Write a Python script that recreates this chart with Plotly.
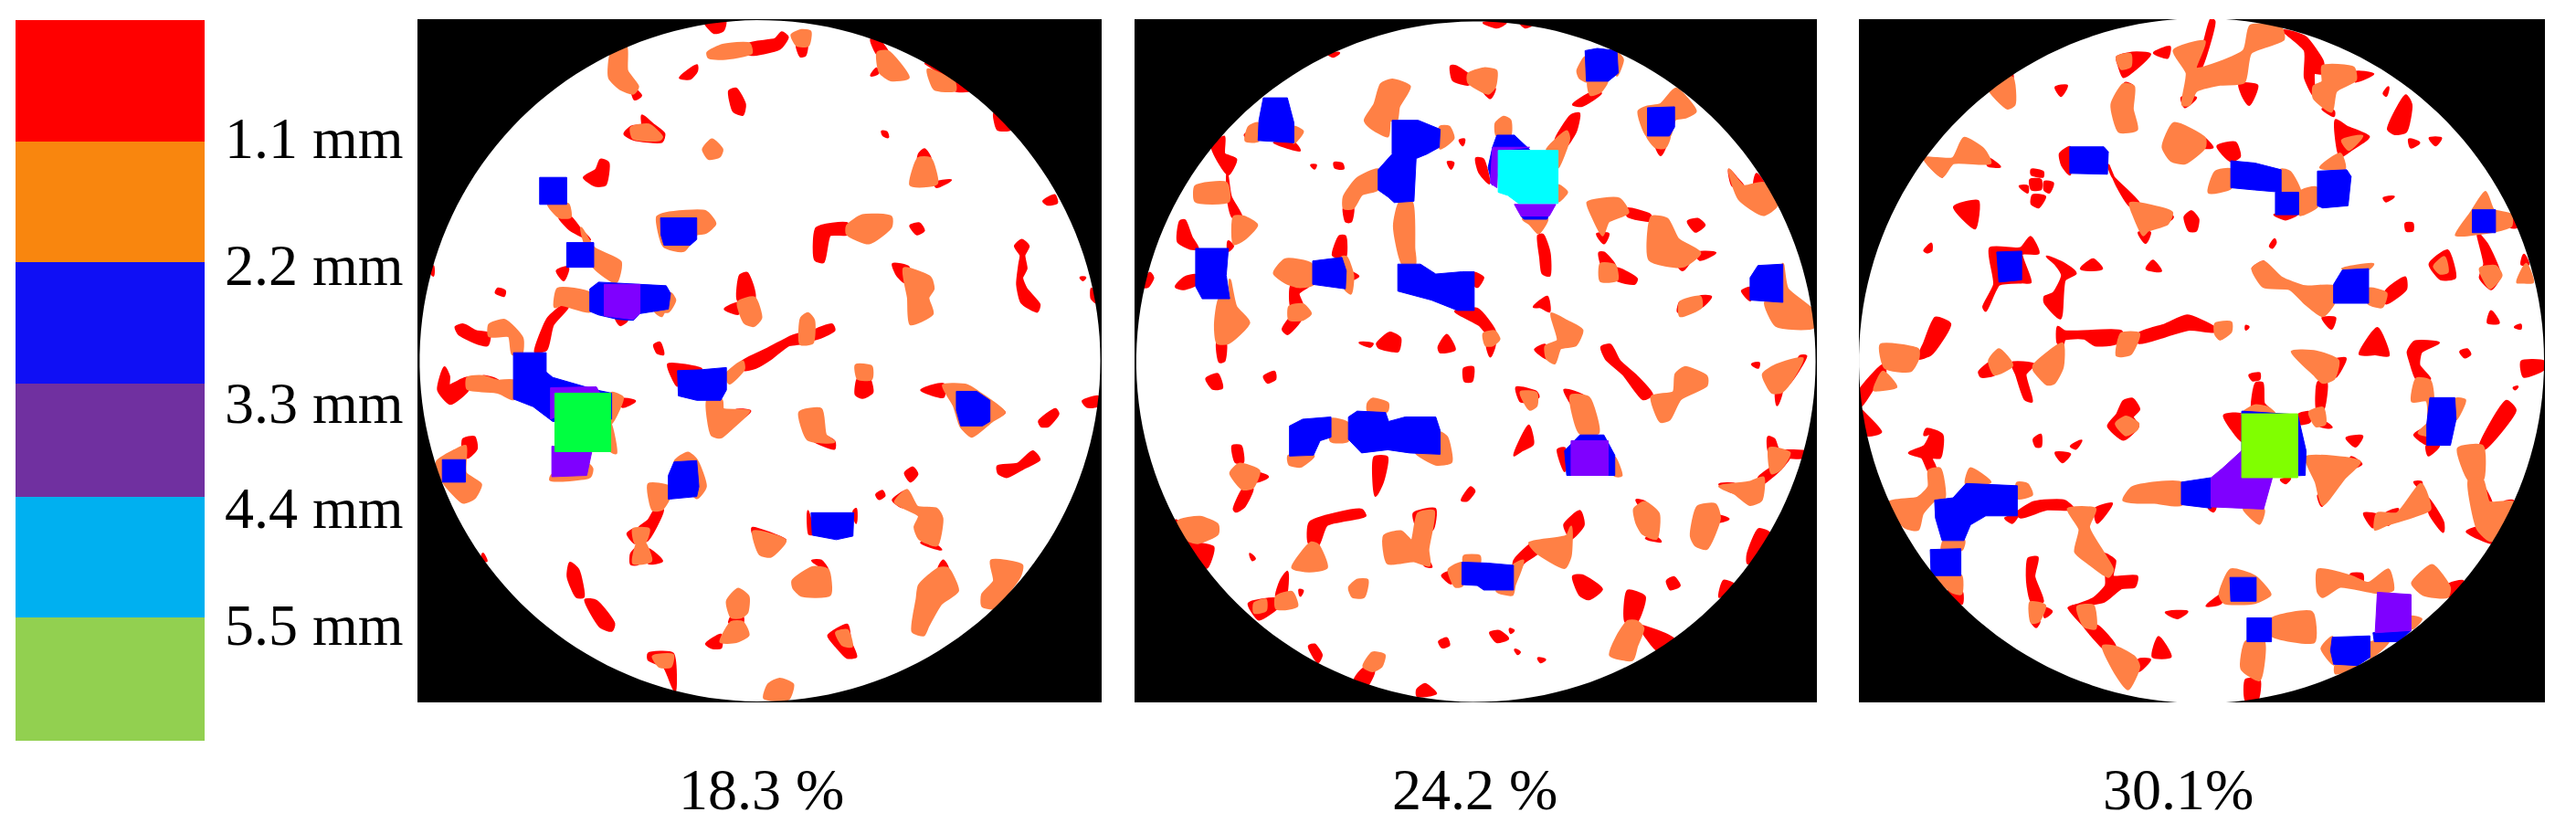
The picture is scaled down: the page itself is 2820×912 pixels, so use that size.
import numpy as np
import plotly.graph_objects as go

# colour scale of the pore size map
LEGEND_SPANS = [133, 133, 133, 124, 133, 135]
LEGEND_COLORS = ['#ff0000', '#f9860e', '#0f0ff5', '#7030a0', '#00b0f0', '#92d050']
LEGEND_LABELS = ['1.1 mm', '2.2 mm', '3.3 mm', '4.4 mm', '5.5 mm']
LEGEND_LABEL_Y = [151, 291, 441, 556, 684]
PANEL_TITLES = ['18.3 %', '24.2 %', '30.1%']

RED = '#ff0000'
ORANGE = '#ff8045'
BLUE = '#0000ff'
PURPLE = '#7f00ff'

# pore outlines, one list per size class
P1_RED = [
    [(445,75),(478,60),(470,100),(445,110)], [(490,150),(512,170),(498,178)], [(760,55),(820,45),(835,30),(848,40),(830,65),(760,78)],
    [(870,58),(892,58),(888,80),(878,82)], [(660,8),(705,5),(700,25),(680,30)], [(1040,45),(1060,50),(1078,75),(1055,78)],
    [(1040,125),(1052,110),(1055,120)], [(1165,98),(1265,158),(1232,158),(1228,140)], [(1322,210),(1358,245),(1330,245)],
    [(602,130),(640,103),(640,115),(625,132)], [(715,160),(730,155),(750,190),(745,212),(725,205)],
    [(515,215),(540,235),(565,255),(560,272),(495,267),(475,255),(490,240),(515,235)], [(382,352),(410,335),(420,313),(437,320),(430,368),(408,370)],
    [(1065,250),(1075,252),(1078,262),(1068,258)], [(1150,300),(1162,290),(1175,310),(1148,312)], [(1185,365),(1222,358),(1190,373)],
    [(1435,405),(1460,392),(1465,408),(1445,412)], [(325,440),(350,440),(375,470),(395,490),(350,468)], [(340,552),(320,560),(335,580),(345,555)],
    [(330,640),(345,640),(310,680),(295,735),(270,740),(285,695),(300,665)], [(455,665),(480,670),(465,680)],
    [(915,465),(985,455),(985,478),(945,480),(930,540),(912,535)], [(1130,460),(1150,455),(1160,470),(1145,478)],
    [(1370,505),(1385,492),(1400,505),(1390,525),(1395,555),(1385,575),(1395,600),(1425,635),(1420,650),(1385,630),(1375,590),(1380,545),(1383,525)],
    [(1545,600),(1555,630),(1545,620)], [(1520,575),(1530,575),(1525,580)], [(1090,545),(1125,552),(1118,585),(1100,570)],
    [(740,570),(755,565),(770,600),(772,620),(735,625)], [(705,645),(735,632),(735,655)], [(88,685),(105,680),(135,695),(165,700),(160,725),(130,718),(95,700)],
    [(48,825),(62,775),(72,795),(72,815),(115,798),(115,825),(75,855)], [(150,795),(185,805),(185,825),(150,820)],
    [(465,845),(498,850),(470,862)], [(105,935),(130,930),(135,955),(115,975),(105,960)], [(575,768),(650,778),(598,790),(595,815)],
    [(745,762),(800,735),(860,705),(880,700),(880,720),(850,725),(810,755),(775,775),(748,780)], [(908,695),(950,680),(955,692),(908,712)],
    [(730,870),(762,872),(738,890)], [(543,725),(555,720),(563,745),(550,742)], [(1010,800),(1035,800),(1042,830),(1020,842),(1005,835)],
    [(925,925),(955,940),(955,955),(905,935)], [(1155,825),(1205,812),(1205,840)], [(1318,860),(1345,875),(1322,885)],
    [(1525,850),(1560,840),(1558,860),(1535,862)], [(1425,895),(1462,868),(1468,878),(1445,905),(1430,905)],
    [(1330,995),(1375,990),(1410,962),(1425,980),(1390,998),(1350,1018),(1332,1010)], [(1118,1010),(1135,998),(1145,1012),(1130,1028)],
    [(1052,1058),(1065,1050),(1070,1060),(1058,1067)], [(1090,1070),(1120,1050),(1112,1085)], [(1170,1160),(1200,1180),(1155,1165)],
    [(545,1092),(562,1092),(525,1160),(505,1135),(530,1115)], [(482,1145),(498,1135),(498,1165)], [(530,1180),(560,1205),(530,1210)],
    [(490,1190),(505,1175),(505,1212),(490,1212)], [(895,1095),(905,1145),(898,1145)], [(1000,1095),(1005,1090),(1005,1120)],
    [(768,1132),(843,1158),(770,1145)], [(905,1205),(925,1205),(940,1225)], [(1195,1222),(1205,1205),(1215,1222)],
    [(350,1210),(368,1225),(380,1285),(365,1285),(345,1240)], [(385,1292),(410,1295),(450,1345),(445,1360),(420,1352)],
    [(720,1330),(745,1330),(745,1342),(715,1342)], [(662,1390),(695,1370),(695,1398),(675,1398)],
    [(942,1372),(985,1348),(992,1385),(1005,1418),(985,1420),(960,1395)], [(530,1412),(585,1412),(590,1495),(575,1460),(565,1440),(530,1425)],
    [(150,1190),(158,1205),(148,1200)], [(30,560),(36,550),(36,570)], [(185,600),(200,605),(198,615),(180,608)],
]
P1_ORANGE = [
    [(445,75),(478,62),(480,115),(505,150),(495,165),(465,155),(440,130)], [(665,75),(700,58),(760,55),(765,75),(700,88),(668,85)],
    [(858,35),(880,25),(900,28),(895,58),(870,58)], [(1055,75),(1078,72),(1125,130),(1085,135),(1060,118)], [(1170,112),(1230,140),(1232,158),(1185,155)],
    [(490,242),(530,235),(560,262),(555,268),(495,265)], [(655,290),(675,268),(698,290),(692,305),(668,310)], [(1130,368),(1148,310),(1175,310),(1190,365),(1150,372)],
    [(300,412),(345,412),(350,440),(325,440)], [(375,465),(405,510),(465,540),(455,585),(405,552)], [(322,600),(395,610),(395,650),(330,635),(315,640)],
    [(580,610),(590,625),(575,650),(545,650),(560,660)], [(550,440),(570,432),(660,428),(682,455),(660,475),(640,478),(610,515),(565,505)],
    [(985,460),(1020,437),(1085,440),(1085,462),(1035,498),(985,478)], [(1115,555),(1175,575),(1182,600),(1170,620),(1180,655),(1130,678),(1125,620)],
    [(735,630),(772,620),(787,665),(770,682),(750,675)], [(165,680),(200,670),(240,710),(238,745),(218,745),(210,705),(165,705)],
    [(115,798),(150,795),(185,805),(220,805),(220,845),(185,830),(115,822)], [(445,832),(470,842),(450,890),(442,900)], [(443,900),(455,965),(443,960)],
    [(390,990),(400,1000),(395,1018),(305,1025),(308,1015)], [(45,985),(85,960),(110,950),(110,1010),(145,1035),(130,1065),(105,1075),(60,1030)],
    [(708,790),(745,762),(748,778),(715,810)], [(880,665),(895,655),(908,670),(905,720),(878,722)], [(665,848),(697,848),(700,868),(760,872),(720,910),(695,930),(675,925)],
    [(1005,770),(1040,773),(1040,800),(1010,800)], [(876,875),(925,868),(935,925),(955,940),(895,935)],
    [(1205,815),(1260,815),(1285,830),(1315,850),(1345,875),(1315,895),(1270,928),(1245,905),(1230,860)],
    [(1095,1075),(1122,1048),(1145,1085),(1190,1090),(1202,1110),(1190,1170),(1150,1155),(1140,1130),(1150,1105)], [(590,985),(620,965),(640,982),(660,1040),(640,1065)],
    [(530,1035),(575,1040),(575,1068),(560,1090),(540,1092)], [(495,1135),(530,1135),(520,1165),(500,1165)], [(505,1165),(520,1165),(535,1205),(495,1210)],
    [(770,1140),(843,1160),(810,1195),(785,1190)], [(860,1250),(905,1220),(940,1225),(945,1280),(880,1282),(862,1265)],
    [(1150,1260),(1195,1222),(1215,1222),(1238,1272),(1200,1300),(1170,1350),(1160,1370),(1135,1362),(1145,1290)],
    [(1295,1280),(1322,1250),(1315,1205),(1385,1215),(1380,1240),(1320,1310),(1295,1305)], [(710,1295),(735,1268),(758,1285),(755,1320),(742,1330),(720,1330)],
    [(695,1385),(720,1342),(745,1342),(758,1370),(730,1385)], [(960,1365),(985,1360),(995,1395),(975,1392)], [(540,1418),(585,1415),(580,1440),(555,1440)],
    [(795,1510),(805,1480),(830,1468),(860,1480),(850,1512)],
]
P1_BLUE = [
    [(280,352),(342,352),(342,412),(280,412)], [(342,497),(404,497),(404,552),(342,552)],
    [(395,600),(415,585),(510,590),(570,593),(580,610),(575,645),(510,655),(495,670),(460,668),(415,658),(395,650)],
    [(557,442),(640,442),(640,490),(625,503),(565,503),(558,480)],
    [(220,742),(295,742),(295,785),(310,797),(410,825),(445,832),(445,890),(310,895),(265,862),(220,845)],
    [(57,980),(110,980),(110,1030),(57,1030)], [(596,782),(650,780),(708,775),(708,825),(695,848),(640,848),(598,838)],
    [(1235,828),(1282,828),(1312,848),(1312,895),(1295,905),(1245,905),(1235,870)],
    [(588,985),(640,982),(645,1040),(640,1062),(575,1068),(575,1015)], [(902,1098),(1000,1098),(998,1150),(960,1158),(905,1148)],
]
P1_PURPLE = [
    [(428,590),(510,590),(510,655),(495,668),(428,660)], [(305,820),(410,818),(420,835),(305,890)], [(308,950),(400,960),(388,1015),(308,1018)],
]
P1_GREEN = [[(315,832),(443,832),(443,962),(315,962)]]

P2_RED = [
    [(800,8),(850,8),(830,18)], [(885,10),(910,12),(895,18)], [(445,78),(468,75),(455,83)], [(725,105),(735,105),(765,125),(765,145),(730,135)],
    [(800,160),(825,155),(815,175)], [(1005,190),(1045,165),(1068,165),(1025,192)], [(1195,282),(1215,282),(1205,302)], [(253,258),(265,250),(265,270)],
    [(320,275),(365,275),(378,292),(350,285)], [(480,420),(500,420),(495,450),(485,450)], [(510,362),(557,335),(540,355)], [(778,565),(798,575),(785,595),(778,590)],
    [(735,650),(785,645),(825,695),(810,700),(790,680)], [(808,725),(825,722),(815,750)], [(912,455),(940,452),(925,475)],
    [(965,268),(1000,215),(1018,210),(1010,250),(985,285),(975,270)], [(783,310),(798,312),(812,365),(790,340)], [(925,482),(935,480),(950,520),(950,570),(935,565),(930,530)],
    [(405,325),(415,325),(412,332)], [(458,320),(475,322),(478,332),(460,330)], [(745,270),(755,268),(752,280)], [(718,318),(730,320),(725,332)],
    [(178,282),(205,262),(205,300),(232,312),(215,345),(195,320)], [(212,345),(220,395),(245,440),(225,440),(215,405)], [(105,450),(115,448),(130,485),(145,510),(128,510),(100,495)],
    [(215,495),(225,505),(215,515)], [(95,595),(115,575),(140,570),(140,590),(110,600)], [(190,720),(208,720),(205,760),(195,762)], [(20,595),(35,565),(42,575),(30,595)],
    [(455,525),(470,483),(482,483),(482,530)], [(498,565),(512,572),(498,578)], [(360,592),(400,592),(375,610),(385,640),(360,640)], [(340,690),(358,665),(380,668),(350,700)],
    [(1128,422),(1180,435),(1185,448),(1130,438)], [(1060,478),(1085,478),(1075,498)], [(1285,520),(1330,520),(1295,535)], [(1240,540),(1270,540),(1255,558)],
    [(1268,450),(1290,445),(1305,458),(1285,472)], [(1065,520),(1075,520),(1100,548),(1072,548)], [(1105,555),(1150,578),(1145,588),(1105,580)],
    [(1362,335),(1380,355),(1395,372),(1370,370)], [(1425,345),(1440,365),(1420,368)], [(1392,605),(1410,598),(1410,625)], [(1295,618),(1320,618),(1298,640)],
    [(1245,650),(1250,630),(1265,655)], [(915,640),(945,618),(950,650),(930,640)], [(918,735),(940,725),(945,755)],
    [(1070,730),(1090,725),(1110,760),(1150,795),(1185,835),(1165,845),(1120,790),(1080,755)], [(1470,830),(1482,828),(1472,858)], [(1415,768),(1430,765),(1428,775)],
    [(1525,750),(1538,750),(1500,810)], [(516,720),(545,722),(540,728)], [(556,722),(585,698),(608,710),(603,738),(560,730)], [(697,730),(715,703),(733,735),(700,740)],
    [(755,778),(775,775),(772,805),(757,805)], [(165,800),(190,790),(200,820),(180,822)], [(297,795),(320,785),(322,800),(305,808)], [(875,820),(920,830),(925,840),(900,850),(885,850)],
    [(985,825),(1030,840),(1020,880)], [(970,958),(985,955),(985,1005)], [(870,970),(903,905),(912,945),(885,960)], [(550,975),(578,975),(568,1030),(552,1060)],
    [(225,950),(243,950),(248,985),(232,985)], [(280,1010),(305,1018),(280,1028)], [(228,1090),(250,1045),(270,1045),(250,1085),(232,1095)], [(750,1070),(770,1042),(778,1050),(762,1070)],
    [(1150,1070),(1170,1075),(1165,1090)], [(1190,1150),(1205,1162),(1172,1155)], [(1335,1105),(1360,1112),(1335,1118)], [(1340,1035),(1375,1035),(1370,1052)],
    [(1430,1020),(1500,975),(1480,1000),(1435,1035)], [(1452,930),(1465,935),(1475,958),(1535,962),(1530,975),(1455,965)], [(95,1115),(118,1160),(165,1220),(180,1175),(145,1165)],
    [(402,1120),(520,1092),(528,1105),(440,1125),(420,1170),(400,1165)], [(265,1190),(275,1200),(270,1203)], [(640,1100),(688,1090),(682,1135),(650,1135)],
    [(650,1135),(675,1135),(670,1165),(645,1160)], [(660,1190),(680,1218),(665,1215)], [(705,1238),(722,1230),(725,1255)], [(870,1205),(915,1165),(925,1185),(890,1210),(870,1245)],
    [(985,1125),(1020,1095),(1028,1125),(1000,1155)], [(1005,1240),(1025,1238),(1070,1268),(1040,1290),(1020,1280)], [(1220,1250),(1235,1242),(1248,1260),(1228,1268)],
    [(1430,1135),(1455,1145),(1420,1210),(1405,1210),(1405,1190)], [(1130,1272),(1168,1285),(1150,1340),(1125,1340)], [(1158,1350),(1235,1380),(1200,1405)], [(1340,1285),(1350,1250),(1375,1260)],
    [(262,1300),(325,1290),(330,1305),(285,1335)], [(335,1250),(350,1230),(345,1285),(325,1285)], [(378,1270),(385,1272),(380,1282)], [(400,1395),(412,1392),(428,1415),(420,1430)],
    [(505,1470),(525,1445),(548,1450),(530,1485)], [(648,1492),(665,1480),(690,1500),(648,1505)], [(698,1385),(715,1378),(720,1392),(705,1397)],
    [(815,1365),(835,1362),(855,1378),(830,1385)], [(860,1357),(868,1360),(862,1365)], [(872,1403),(882,1408),(878,1412)], [(925,1422),(940,1425),(930,1430)],
]
P2_ORANGE = [
    [(765,122),(800,110),(828,115),(825,150),(810,165),(765,140)], [(1015,115),(1032,85),(1035,138),(1020,130)], [(1105,75),(1118,90),(1105,125)],
    [(1040,138),(1082,138),(1068,160),(1045,168)], [(1155,205),(1175,195),(1205,190),(1240,155),(1285,205),(1262,218),(1238,222),(1225,260),(1175,260)],
    [(1175,260),(1225,260),(1215,285),(1195,285)], [(262,240),(283,232),(283,270),(255,270)], [(365,240),(385,250),(375,265),(365,275)],
    [(565,145),(590,135),(630,150),(605,195),(600,225),(585,225),(580,260),(540,240),(528,225),(550,190)], [(700,240),(720,240),(730,265),(700,287)],
    [(480,395),(510,355),(557,335),(557,378),(520,390),(500,420),(480,420)], [(608,408),(635,408),(640,510),(642,545),(615,545),(595,460)],
    [(800,700),(825,695),(835,712),(820,725),(805,725)], [(828,232),(845,218),(860,225),(860,258),(830,258)], [(890,445),(945,445),(925,475),(905,455)],
    [(945,290),(990,250),(995,265),(970,330),(970,292)], [(970,370),(990,385),(970,405)], [(140,372),(210,365),(215,405),(140,405)],
    [(228,440),(250,440),(280,458),(250,490),(228,500)], [(218,580),(232,640),(262,675),(215,720),(190,720),(185,680),(195,622),(218,622)],
    [(320,565),(345,535),(405,545),(408,590),(375,595),(345,585)], [(475,530),(485,530),(500,570),(495,610),(483,600)], [(355,640),(385,635),(403,655),(385,668),(355,668)],
    [(1038,408),(1110,400),(1130,430),(1085,450),(1072,480),(1050,440)], [(1185,440),(1220,445),(1245,490),(1295,520),(1255,550),(1180,535)],
    [(1068,545),(1100,548),(1105,580),(1068,582)], [(1362,335),(1395,372),(1440,365),(1470,415),(1440,435),(1385,400)],
    [(1485,545),(1495,600),(1555,650),(1555,685),(1470,682),(1445,630),(1485,630)], [(1250,630),(1295,618),(1298,640),(1250,660)],
    [(955,655),(990,672),(1025,692),(1010,725),(975,732),(962,765),(945,755),(942,728),(970,715)],
    [(1185,840),(1235,830),(1240,790),(1260,775),(1310,795),(1310,815),(1250,845),(1225,890),(1205,895)], [(1440,790),(1470,770),(1530,755),(1500,810),(1480,830),(1460,830)],
    [(885,830),(920,832),(920,860),(905,868)], [(1000,838),(1040,842),(1062,920),(1020,920)], [(1100,975),(1115,1015),(1100,1015)], [(450,890),(490,900),(488,938),(450,938)],
    [(535,855),(545,845),(580,855),(578,872),(535,872)], [(700,920),(715,930),(725,985),(690,990),(645,965),(700,968)], [(353,972),(410,972),(380,995),(355,990)],
    [(220,1010),(240,990),(285,1005),(270,1042),(248,1045)], [(1145,1090),(1168,1075),(1200,1100),(1195,1155),(1165,1145),(1150,1120)],
    [(1275,1150),(1290,1085),(1330,1080),(1340,1110),(1310,1178),(1285,1170)], [(1340,1040),(1410,1030),(1440,1020),(1435,1070),(1410,1080),(1375,1055)],
    [(1455,955),(1500,965),(1480,1000),(1460,1010)], [(100,1118),(150,1108),(190,1125),(190,1145),(145,1165),(125,1160)], [(405,1165),(420,1170),(440,1220),(400,1228),(362,1220)],
    [(572,1150),(610,1140),(635,1160),(650,1100),(685,1095),(672,1180),(675,1215),(640,1205),(580,1210)], [(492,1265),(510,1248),(533,1248),(525,1285),(500,1285)],
    [(720,1225),(750,1210),(750,1260),(735,1262)], [(755,1195),(790,1195),(790,1210),(755,1210)], [(868,1215),(890,1205),(870,1260),(865,1280),(830,1272)],
    [(905,1165),(990,1150),(1000,1130),(998,1195),(985,1220),(920,1185)], [(1105,1375),(1130,1340),(1150,1340),(1165,1355),(1150,1395),(1140,1425),(1090,1415)],
    [(275,1300),(300,1292),(300,1315),(275,1320)], [(325,1285),(360,1275),(372,1305),(345,1312),(325,1310)], [(525,1440),(545,1410),(572,1415),(565,1440),(545,1450)],
]
P2_BLUE = [
    [(1032,70),(1060,65),(1105,70),(1108,120),(1085,138),(1035,138)], [(1175,197),(1237,195),(1237,240),(1225,260),(1175,260)],
    [(295,175),(350,175),(365,230),(365,275),(283,270),(285,225)], [(590,225),(650,225),(700,245),(698,285),(670,300),(645,310),(640,405),(595,408),(580,395),(558,380),(558,335),(590,300),(590,260)],
    [(603,545),(655,545),(690,567),(750,562),(778,562),(778,648),(740,648),(680,625),(603,605)], [(830,258),(870,258),(905,290),(835,290),(815,330),(820,285)],
    [(810,330),(820,285),(820,370)], [(885,438),(948,438),(945,445),(892,445)], [(140,510),(215,510),(210,570),(218,622),(155,622),(140,595)],
    [(408,538),(475,530),(485,560),(483,600),(408,590)], [(1428,548),(1485,545),(1485,630),(1410,625),(1410,575)], [(1020,925),(1075,925),(1100,970),(1100,1015),(990,1015),(985,960)],
    [(355,905),(385,890),(450,885),(450,930),(425,938),(410,970),(355,972)], [(490,885),(510,872),(575,875),(582,895),(620,885),(690,885),(700,915),(700,968),(630,965),(580,958),(520,965),(490,935)],
    [(750,1208),(808,1210),(868,1215),(868,1270),(800,1270),(785,1260),(750,1258)],
]
P2_PURPLE = [
    [(820,285),(905,285),(835,292),(830,375),(815,365)], [(870,412),(965,412),(950,438),(885,438)], [(1000,938),(1085,938),(1085,1015),(1000,1015)],
]
P2_CYAN = [[(833,292),(970,292),(970,410),(880,410),(855,392),(833,385)]]

P3_RED = [
    [(790,50),(805,0),(812,5),(780,110),(770,110)], [(675,75),(710,62),(705,85)], [(590,85),(625,75),(665,78),(605,128),(595,105)], [(738,175),(770,175),(745,195)],
    [(870,145),(910,148),(892,190),(880,175)], [(970,25),(1020,40),(1060,95),(1060,120),(1040,120),(1040,170),(1020,130),(1020,70)], [(1135,118),(1175,122),(1135,138)],
    [(1060,200),(1085,205),(1085,215)], [(320,140),(350,122),(350,135)], [(450,152),(475,148),(462,170)], [(610,142),(625,148),(605,148)], [(785,262),(808,285),(790,285)],
    [(1210,245),(1250,170),(1262,190),(1250,250),(1225,255)], [(1200,165),(1210,152),(1205,170)], [(150,310),(190,315),(190,350)], [(295,310),(322,328),(295,325)],
    [(368,372),(385,372),(385,385)], [(395,335),(420,340),(420,350),(395,345)], [(392,358),(415,358),(415,378),(395,378)], [(425,362),(443,365),(435,385),(425,380)],
    [(398,392),(425,395),(410,418),(395,410)], [(460,300),(482,285),(482,345),(465,325)], [(570,325),(580,350),(640,410),(620,415),(590,370)], [(640,475),(665,475),(655,497)],
    [(700,430),(717,440),(705,450)], [(745,440),(760,428),(775,445),(770,470),(755,470)], [(218,418),(272,405),(265,465),(245,450)], [(150,515),(165,500),(165,515),(155,518)],
    [(820,283),(860,275),(870,305),(850,315)], [(1090,225),(1115,240),(1165,262),(1125,290),(1100,305)], [(950,435),(1000,435),(975,445)], [(1200,398),(1222,395),(1205,405)],
    [(1258,268),(1280,275),(1262,285)], [(1305,265),(1330,265),(1318,280)], [(1250,455),(1265,455),(1265,470),(1252,470)], [(940,505),(950,490),(952,497),(945,508)],
    [(1488,435),(1505,462),(1490,462)], [(1415,478),(1435,500),(1465,570),(1445,600),(1420,575),(1430,545)], [(1520,525),(1530,545),(1515,545)], [(1305,545),(1345,515),(1362,575),(1330,578)],
    [(300,510),(370,510),(392,485),(410,520),(372,522),(392,585),(372,585),(320,590),(290,648),(285,640),(310,590)],
    [(430,528),(470,545),(495,565),(470,580),(460,665),(425,630),(425,618),(445,610),(465,570),(450,545)], [(508,555),(535,535),(555,555),(530,558)], [(658,555),(672,538),(690,560)],
    [(1060,665),(1088,665),(1080,688)], [(900,555),(925,540),(940,570)], [(1205,605),(1248,575),(1250,600),(1205,632)], [(175,665),(208,678),(165,745),(135,755),(150,720)],
    [(0,830),(55,770),(60,785),(30,825),(5,860)], [(5,870),(15,880),(50,918),(20,925)], [(455,685),(470,695),(600,695),(590,720),(540,725),(515,710),(470,712),(465,725),(455,720)],
    [(640,700),(700,680),(750,660),(810,685),(815,695),(755,690),(700,705),(640,720)], [(275,785),(300,765),(310,790),(280,795)], [(350,765),(400,768),(380,790),(395,850),(380,845),(360,790)],
    [(885,683),(890,685),(885,690)], [(1145,745),(1185,688),(1210,748),(1180,745)], [(1255,740),(1270,718),(1325,720),(1285,740),(1280,770),(1305,800),(1275,800),(1260,760)],
    [(1375,740),(1390,735),(1397,745),(1385,752)], [(1515,762),(1565,762),(1565,778),(1520,795)], [(1500,685),(1512,680),(1512,688)], [(1438,675),(1445,650),(1462,675)],
    [(1497,820),(1505,818),(1500,823)], [(1270,925),(1298,910),(1298,945)], [(1298,950),(1325,950),(1302,970)], [(1420,950),(1480,850),(1500,870),(1430,955)],
    [(1420,1028),(1445,1075),(1440,1100)], [(1390,1140),(1425,1130),(1445,1165)], [(1475,1075),(1495,1072),(1470,1110)], [(1085,760),(1112,755),(1090,795)],
    [(1050,808),(1068,808),(1060,870),(1048,870)], [(1060,895),(1080,908),(1055,905)], [(1005,880),(1030,875),(1030,895),(1005,900)], [(893,792),(915,788),(915,800),(900,803)],
    [(908,810),(922,810),(925,855),(940,870),(900,870)], [(835,882),(875,880),(875,938)], [(965,1025),(985,1022),(975,1032)], [(800,1088),(815,1085),(810,1095)],
    [(1125,975),(1148,990),(1120,1000)], [(1050,1060),(1070,1060),(1058,1082)], [(1115,932),(1150,928),(1135,950)], [(605,850),(625,845),(640,868),(625,885),(638,905),(605,935),(570,905),(590,880)],
    [(400,935),(415,925),(415,950),(405,950)], [(450,965),(482,968),(465,985)], [(485,950),(508,938),(495,955)],
    [(115,965),(150,950),(165,920),(150,925),(155,912),(190,925),(185,975),(165,975),(175,1000),(160,1005),(145,975)], [(70,1075),(95,1130),(75,1100)],
    [(360,1100),(400,1075),(470,1072),(490,1090),(430,1090),(370,1108)], [(335,1110),(362,1105),(350,1120)], [(540,1090),(578,1078),(545,1120)],
    [(560,1190),(585,1205),(580,1240),(635,1240),(630,1262),(600,1265),(560,1295),(500,1305),(480,1310),(535,1290),(565,1260),(565,1235)], [(205,1272),(235,1275),(235,1300)],
    [(388,1200),(408,1198),(400,1240),(420,1295),(395,1295),(385,1250)], [(395,1340),(412,1340),(405,1352)], [(425,1310),(440,1318),(425,1330)], [(480,1310),(500,1305),(515,1350),(555,1395),(560,1400),(530,1365)],
    [(520,1350),(545,1350),(585,1395),(560,1398)], [(640,1425),(665,1425),(640,1450)], [(672,1418),(685,1375),(712,1418)], [(702,1320),(750,1318),(728,1332)], [(795,1305),(845,1270),(825,1300)],
    [(885,1470),(915,1470),(910,1515),(885,1515)], [(1345,1260),(1380,1250),(1350,1285)], [(1125,1235),(1150,1235),(1150,1255),(1125,1258)], [(1155,1100),(1190,1105),(1175,1130)],
    [(1205,1100),(1232,1090),(1210,1125)], [(1300,1065),(1335,1120),(1335,1140),(1305,1100)], [(1270,1030),(1285,1030),(1285,1045)],
]
P3_ORANGE = [
    [(720,70),(790,50),(770,110),(880,70),(895,15),(965,20),(970,45),(895,75),(880,140),(825,145),(770,160),(755,190),(740,190),(750,120)], [(590,85),(620,78),(620,105),(600,110)],
    [(1060,105),(1130,108),(1135,135),(1090,160),(1080,205),(1040,175),(1040,150),(1060,140)], [(298,155),(350,130),(355,190),(340,198)], [(578,190),(605,145),(628,150),(625,200),(635,245),(595,250)],
    [(695,285),(720,232),(790,265),(790,285),(745,320),(715,315)], [(150,310),(215,310),(240,265),(285,290),(300,320),(215,320),(190,350)], [(620,410),(715,430),(705,455),(660,470),(650,480),(630,440)],
    [(800,385),(815,340),(850,335),(850,375)], [(965,335),(985,340),(1008,385),(965,385)], [(1008,385),(1045,375),(1048,415),(1008,435)], [(1055,330),(1100,300),(1110,332)],
    [(1105,270),(1150,260),(1120,290)], [(1365,480),(1400,430),(1432,385),(1450,425),(1490,435),(1490,460),(1450,472),(1405,478)], [(1420,555),(1455,550),(1468,570),(1442,598)],
    [(1505,585),(1525,545),(1540,585),(1515,585)], [(1315,550),(1338,530),(1345,562),(1328,565)], [(900,555),(925,540),(965,575),(1020,595),(1085,595),(1085,632),(1060,660),(1020,632),(985,600),(925,595)],
    [(1105,555),(1175,545),(1165,555)], [(1165,600),(1205,610),(1195,640),(1165,632)], [(50,725),(135,735),(135,755),(118,782),(60,775)], [(35,825),(55,785),(85,818),(45,825)],
    [(600,700),(640,700),(620,745),(590,748)], [(815,678),(850,675),(850,695),(825,712),(815,700)], [(400,770),(465,722),(465,775),(445,810),(430,812),(400,780)], [(298,760),(320,735),(350,770),(310,790)],
    [(1275,800),(1305,805),(1312,840),(1305,895),(1280,920),(1298,925),(1298,848),(1265,850)], [(1365,845),(1385,848),(1365,890)], [(1370,955),(1425,950),(1425,1025),(1395,1025)],
    [(1395,1025),(1425,1025),(1440,1075),(1495,1075),(1445,1160),(1415,1135)], [(990,740),(1045,740),(1095,760),(1085,800),(1060,808),(1040,790)], [(1030,875),(1060,865),(1065,900),(1045,905)],
    [(905,860),(935,865),(950,878),(875,878)], [(605,1070),(625,1042),(737,1032),(737,1080),(675,1075),(640,1075)], [(880,1090),(925,1092),(915,1122)], [(1022,975),(1145,985),(1110,1020),(1060,1080),(1045,1030)],
    [(588,900),(610,885),(638,900),(635,912),(610,925)], [(70,1075),(135,1065),(160,1040),(160,1005),(185,1000),(195,1065),(175,1068),(145,1100),(135,1135),(105,1130)], [(255,1000),(300,1030),(245,1033)],
    [(362,1032),(385,1035),(395,1058),(362,1065)], [(478,1090),(540,1090),(525,1130),(560,1190),(580,1225),(570,1240),(525,1210),(495,1185),(505,1135)], [(195,1160),(240,1160),(235,1180),(190,1180)],
    [(175,1240),(233,1238),(233,1278),(215,1275)], [(392,1298),(425,1305),(410,1340),(395,1342)], [(500,1308),(535,1305),(540,1355),(515,1350)], [(558,1395),(590,1398),(630,1420),(640,1440),(615,1490),(590,1460)],
    [(825,1280),(850,1225),(905,1240),(930,1265),(940,1280),(905,1298),(835,1298)], [(943,1335),(1035,1320),(1040,1385),(943,1370)], [(885,1385),(925,1385),(915,1470),(875,1445)],
    [(1050,1275),(1050,1225),(1125,1240),(1165,1255),(1210,1225),(1220,1270),(1180,1275),(1100,1262),(1060,1285)], [(1262,1330),(1285,1335),(1265,1355)], [(1265,1255),(1310,1215),(1350,1265),(1345,1285),(1290,1280)],
    [(1058,1400),(1082,1375),(1085,1435)], [(1090,1438),(1135,1440),(1090,1455)], [(1168,1388),(1210,1385),(1168,1420)], [(1185,1100),(1230,1100),(1285,1035),(1305,1090),(1270,1105),(1205,1125),(1180,1135)],
]
P3_BLUE = [
    [(482,284),(560,284),(570,295),(568,345),(482,343)], [(850,315),(905,320),(965,335),(965,385),(905,380),(850,375)], [(952,385),(1005,385),(1005,435),(952,435)],
    [(1048,338),(1115,335),(1125,350),(1118,415),(1060,420),(1048,415)], [(1402,424),(1455,424),(1455,475),(1402,475)], [(315,518),(372,516),(372,580),(320,585)],
    [(1085,590),(1105,558),(1165,555),(1165,632),(1085,632)], [(1305,842),(1362,842),(1365,890),(1352,948),(1298,948),(1298,900)], [(875,872),(1003,880),(1022,960),(1020,1015),(875,1020)],
    [(737,1030),(805,1020),(805,1088),(737,1080)], [(173,1070),(215,1065),(245,1033),(362,1038),(362,1105),(290,1105),(255,1125),(240,1160),(190,1160),(175,1110)],
    [(163,1180),(233,1178),(233,1238),(165,1238)], [(848,1242),(908,1242),(908,1295),(850,1295)], [(887,1332),(943,1332),(943,1385),(887,1385)],
    [(1175,1365),(1262,1360),(1235,1385),(1178,1385)], [(1082,1375),(1168,1372),(1168,1420),(1140,1438),(1085,1435),(1078,1405)],
]
P3_PURPLE = [
    [(805,1020),(830,1000),(875,960),(875,1020),(945,1020),(925,1090),(805,1085)], [(1185,1275),(1262,1280),(1262,1360),(1180,1365)],
]
P3_LIME = [[(875,878),(1003,878),(1003,1020),(875,1020)]]

W, H = 2820, 912

# panel boxes in pixels and the size of the ruler each outline list was read in
PANELS = [
    dict(box=(457, 1206), ruler=1568, circle=(785, 760, 780, 758),
         layers=[(P1_RED, RED, 'spline', 3), (P1_ORANGE, ORANGE, 'spline', 3), (P1_BLUE, BLUE, 'linear', 1),
                 (P1_PURPLE, PURPLE, 'linear', 1), (P1_GREEN, '#00ff40', 'linear', 1)]),
    dict(box=(1242, 1989), ruler=1563, circle=(782, 762, 778, 757),
         layers=[(P2_RED, RED, 'spline', 3), (P2_ORANGE, ORANGE, 'spline', 3), (P2_BLUE, BLUE, 'linear', 1),
                 (P2_PURPLE, PURPLE, 'linear', 1), (P2_CYAN, '#00ffff', 'linear', 1)]),
    dict(box=(2035, 2786), ruler=1568, circle=(783, 760, 783, 762),
         layers=[(P3_RED, RED, 'spline', 3), (P3_ORANGE, ORANGE, 'spline', 3), (P3_BLUE, BLUE, 'linear', 1),
                 (P3_PURPLE, PURPLE, 'linear', 1), (P3_LIME, '#80ff00', 'linear', 1)]),
]
PANEL_TOP, PANEL_BOTTOM, RULER_Y = 21, 769, 1520


def mask_path(ruler, circle):
    # black square with a round window cut out
    cx, cy, rx, ry = circle
    t = np.linspace(0, 2 * np.pi, 180)
    pts = ['%.1f,%.1f' % (cx + rx * np.cos(a), cy + ry * np.sin(a)) for a in t]
    return 'M0,0 L%d,0 L%d,%d L0,%d Z M%s Z' % (ruler, ruler, RULER_Y, RULER_Y, ' L'.join(pts))


fig = go.Figure()

# colour bar as one stacked bar
for span, color in zip(LEGEND_SPANS, LEGEND_COLORS):
    fig.add_trace(go.Bar(x=['scale'], y=[span], marker=dict(color=color, line_width=0),
                         width=1, xaxis='x', yaxis='y', showlegend=False, hoverinfo='skip'))

layout = dict(
    width=W, height=H, margin=dict(l=0, r=0, t=0, b=0),
    paper_bgcolor='white', plot_bgcolor='white', barmode='stack', bargap=0,
    showlegend=False, font=dict(family='Liberation Serif', color='black'),
    xaxis=dict(domain=[17 / W, 224 / W], visible=False),
    yaxis=dict(domain=[1 - 811 / H, 1 - 22 / H], range=[sum(LEGEND_SPANS), 0], visible=False),
)
shapes = []
annotations = []

for lab, y in zip(LEGEND_LABELS, LEGEND_LABEL_Y):
    annotations.append(dict(text=lab, x=444 / W, y=1 - y / H, xref='paper', yref='paper',
                            xanchor='right', yanchor='middle', showarrow=False, font_size=64))

for i, panel in enumerate(PANELS):
    n = str(i + 2)
    x0, x1 = panel['box']
    layout['xaxis' + n] = dict(domain=[x0 / W, x1 / W], range=[0, panel['ruler']], visible=False, anchor='y' + n)
    layout['yaxis' + n] = dict(domain=[1 - PANEL_BOTTOM / H, 1 - PANEL_TOP / H], range=[RULER_Y, 0],
                               visible=False, anchor='x' + n)
    for polys, color, shape, lw in panel['layers']:
        for poly in polys:
            xs = [p[0] for p in poly] + [poly[0][0]]
            ys = [p[1] for p in poly] + [poly[0][1]]
            fig.add_trace(go.Scatter(x=xs, y=ys, mode='lines', fill='toself', fillcolor=color,
                                     line=dict(color=color, width=lw, shape=shape, smoothing=0.6),
                                     xaxis='x' + n, yaxis='y' + n, showlegend=False, hoverinfo='skip'))
    shapes.append(dict(type='path', xref='x' + n, yref='y' + n, path=mask_path(panel['ruler'], panel['circle']),
                       fillcolor='black', fillrule='evenodd', line_width=0, layer='above'))

for title, x in zip(PANEL_TITLES, [833, 1614, 2384]):
    annotations.append(dict(text=title, x=x / W, y=1 - 864 / H, xref='paper', yref='paper',
                            xanchor='center', yanchor='middle', showarrow=False, font_size=64))

layout['shapes'] = shapes
layout['annotations'] = annotations
fig.update_layout(**layout)

# the page's default body margin would push the figure off by 8 px
fig.write_html("out.html", config=dict(displayModeBar=False), post_script="document.body.style.margin='0';")
